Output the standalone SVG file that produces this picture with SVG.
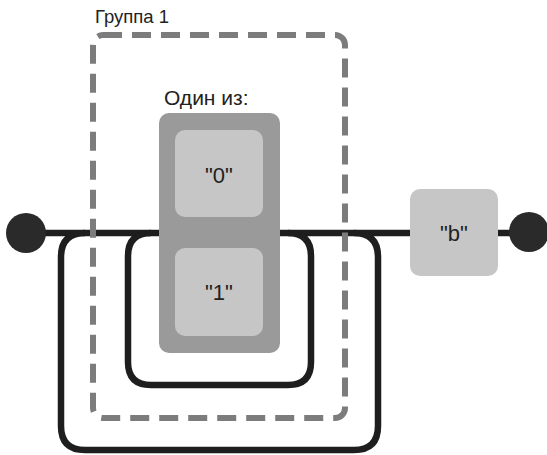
<svg xmlns="http://www.w3.org/2000/svg" width="547" height="455" viewBox="0 0 547 455">
<style>
.t{font-family:"Liberation Sans",Arial,sans-serif;fill:#222}
.lbl{font-size:18.5px}
.val{font-size:22px;text-anchor:middle}
.wire{fill:none;stroke:#1e1e1e;stroke-width:6.5}
.term{fill:#2a2a2a}
.lit{fill:#c6c6c6}
</style>
<rect width="547" height="455" fill="#fff"/>
<g id="connectors">
<path class="wire" d="M26 233 H410 M498 233 H528"/>
<path class="wire" d="M288 233 Q311 233 311 256 V362 Q311 385 288 385 H151 Q128 385 128 362 V256 Q128 233 151 233"/>
<path class="wire" d="M354 233 Q378 233 378 257 V426 Q378 450 354 450 H85 Q61 450 61 426 V257 Q61 233 85 233"/>
</g>
<g id="group1">
<rect x="93" y="35" width="252" height="383" rx="10" fill="none" stroke="#7c7c7c" stroke-width="6" stroke-dasharray="19 10"/>
<text class="t lbl" x="95" y="23">Группа 1</text>
</g>
<g id="choice">
<text class="t" x="164" y="105" style="font-size:21px">Один из:</text>
<rect x="159" y="113" width="121" height="240" rx="10" fill="#9a9a9a"/>
</g>
<g id="node0">
<rect class="lit" x="175" y="130" width="88" height="87" rx="10"/>
<text class="t val" x="219" y="183">"0"</text>
</g>
<g id="node1">
<rect class="lit" x="175" y="248" width="88" height="88" rx="10"/>
<text class="t val" x="219" y="300">"1"</text>
</g>
<g id="nodeb">
<rect class="lit" x="410" y="189" width="88" height="87" rx="10"/>
<text class="t val" x="454" y="241">"b"</text>
</g>
<g id="start"><circle class="term" cx="26" cy="233" r="20"/></g>
<g id="end"><circle class="term" cx="529" cy="232" r="20"/></g>
</svg>
